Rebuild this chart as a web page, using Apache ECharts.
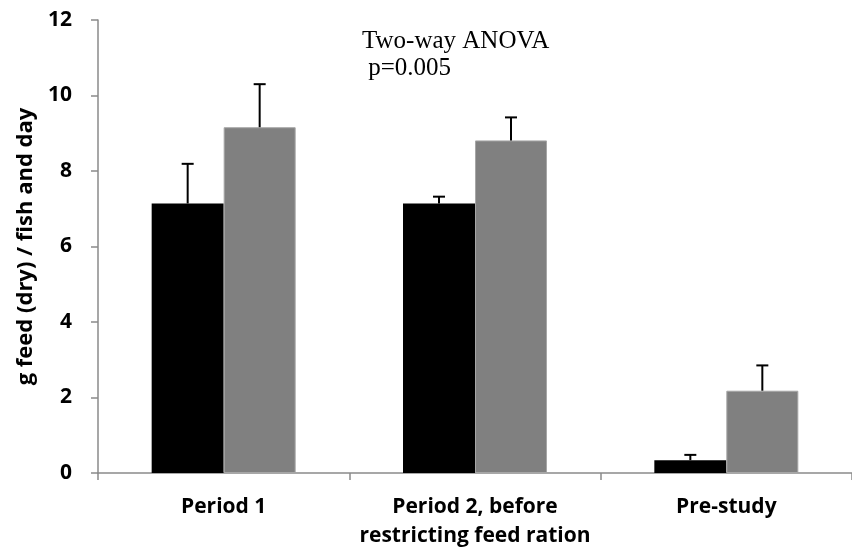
<!DOCTYPE html>
<html>
<head>
<meta charset="utf-8">
<script src="https://cdn.jsdelivr.net/npm/echarts@6/dist/echarts.min.js"></script>
<style>
html,body{margin:0;padding:0;background:#fff;}
#chart{width:852px;height:554px;}
</style>
</head>
<body>
<div id="chart"></div>
<script>
const categories = ['Period 1', 'Period 2, before\nrestricting feed ration', 'Pre-study'];
const blackValues = [7.14, 7.14, 0.34];
const blackErrTop = [8.19, 7.32, 0.48];
const grayValues = [9.16, 8.81, 2.18];
const grayErrTop = [10.30, 9.42, 2.85];
const yTicks = { min: 0, max: 12, interval: 2 };
const yAxisTitle = 'g feed (dry) / fish and day';
const annotationLines = ['Two-way ANOVA', ' p=0.005'];

const BAR_W = 72;
const chart = echarts.init(document.getElementById('chart'));

function errSeries(values, tops, offset) {
  return {
    type: 'custom',
    z: 5,
    silent: true,
    data: values.map((v, i) => [i, v, tops[i]]),
    renderItem: function (params, api) {
      const base = api.coord([api.value(0), api.value(1)]);
      const top = api.coord([api.value(0), api.value(2)]);
      const x = base[0] + offset;
      const style = { stroke: '#000', lineWidth: 2 };
      return {
        type: 'group',
        children: [
          { type: 'line', shape: { x1: x, y1: base[1], x2: x, y2: top[1] }, style: style },
          { type: 'line', shape: { x1: x - 6, y1: top[1], x2: x + 6, y2: top[1] }, style: style }
        ]
      };
    }
  };
}

const axisColor = '#8a8a8a';
const labelFont = { fontFamily: 'Open Sans', fontWeight: 'bold', color: '#000' };

chart.setOption({
  animation: false,
  backgroundColor: '#fff',
  grid: { left: 98, right: -11, top: 20, bottom: 81 },
  xAxis: {
    type: 'category',
    data: categories,
    axisLine: { lineStyle: { color: axisColor, width: 1.5 } },
    axisTick: { show: true, length: 7, lineStyle: { color: axisColor, width: 1.5 } },
    axisLabel: Object.assign({ fontSize: 21, margin: 20, lineHeight: 29, interval: 0 }, labelFont),
    splitLine: { show: false }
  },
  yAxis: {
    type: 'value',
    min: yTicks.min,
    max: yTicks.max,
    interval: yTicks.interval,
    name: yAxisTitle,
    nameLocation: 'middle',
    nameGap: 60,
    nameTextStyle: Object.assign({ fontSize: 22 }, labelFont),
    axisLine: { show: true, lineStyle: { color: axisColor, width: 1.5 } },
    axisTick: { show: true, length: 7, lineStyle: { color: axisColor, width: 1.5 } },
    axisLabel: Object.assign({ fontSize: 21, margin: 26 }, labelFont),
    splitLine: { show: false }
  },
  graphic: [
    { type: 'text', left: 362, top: 29, style: { text: annotationLines[0], font: '25px "Liberation Serif"', fill: '#000' } },
    { type: 'text', left: 362, top: 56, style: { text: annotationLines[1], font: '25px "Liberation Serif"', fill: '#000', whiteSpace: 'pre' } }
  ],
  series: [
    { type: 'bar', data: blackValues, barWidth: BAR_W, barGap: '0%', itemStyle: { color: '#000' } },
    { type: 'bar', data: grayValues, barWidth: BAR_W, barGap: '0%', itemStyle: { color: '#808080', borderColor: '#a6a6a6', borderWidth: 1 } },
    errSeries(blackValues, blackErrTop, -BAR_W / 2),
    errSeries(grayValues, grayErrTop, BAR_W / 2)
  ]
});
</script>
</body>
</html>
